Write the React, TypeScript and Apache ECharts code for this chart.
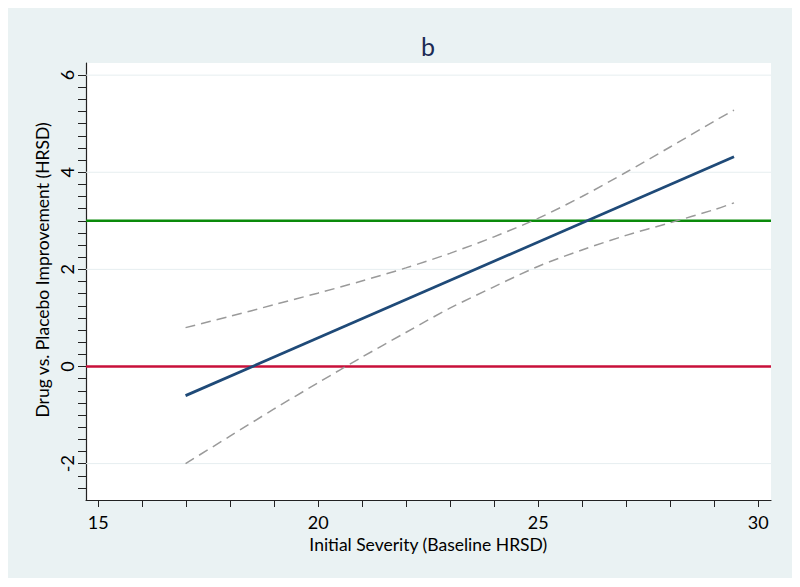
import React, { useEffect, useRef } from 'react';
import * as echarts from 'echarts';

// Confidence band
const ciX = [17, 18, 19, 20, 21, 22, 23, 24, 25, 26, 27, 28, 29, 29.45];
const upperCI = [0.8, 1.03, 1.27, 1.51, 1.76, 2.03, 2.33, 2.67, 3.05, 3.5, 4.0, 4.52, 5.05, 5.28];
const lowerCI = [-2.0, -1.44, -0.88, -0.34, 0.19, 0.7, 1.2, 1.64, 2.06, 2.4, 2.7, 2.96, 3.23, 3.37];
// Fitted line
const fitX = [17, 29.45];
const fitY = [-0.6, 4.32];
// Axes
const xRange = [14.74, 30.29];
const yRange = [-2.75, 6.25];
const xTickLabels = [15, 20, 25, 30];
const yTickLabels = [-2, 0, 2, 4, 6];
const gridLineValues = [-2, 2, 4, 6];
const referenceValues = [0, 3];
const referenceColors = ['#c8103a', '#0a8a0a'];

const FONT = 'Lato, "Open Sans", sans-serif';

export default function App() {
  const ref = useRef<HTMLDivElement>(null);
  useEffect(() => {
    const chart = echarts.init(ref.current!, null, { renderer: 'svg' });
    const hLine = (v: number) => [[xRange[0], v], [xRange[1], v]];
    const series: any[] = [];
    gridLineValues.forEach((v) => {
      series.push({
        type: 'line', xAxisIndex: 0, yAxisIndex: 0, data: hLine(v), symbol: 'none', silent: true,
        lineStyle: { color: '#e6eef0', width: 1 }, z: 1,
      });
    });
    referenceValues.forEach((v, i) => {
      series.push({
        type: 'line', xAxisIndex: 0, yAxisIndex: 0, data: hLine(v), symbol: 'none', silent: true,
        lineStyle: { color: referenceColors[i], width: 2.6 }, z: 2,
      });
    });
    series.push({
      name: 'Upper CI', type: 'line', xAxisIndex: 0, yAxisIndex: 0, symbol: 'none', smooth: 0.3,
      data: ciX.map((x, i) => [x, upperCI[i]]),
      lineStyle: { color: '#9a9a9a', width: 1.5, type: [10, 6] }, z: 3,
    });
    series.push({
      name: 'Lower CI', type: 'line', xAxisIndex: 0, yAxisIndex: 0, symbol: 'none', smooth: 0.3,
      data: ciX.map((x, i) => [x, lowerCI[i]]),
      lineStyle: { color: '#9a9a9a', width: 1.5, type: [10, 6] }, z: 3,
    });
    series.push({
      name: 'Fit', type: 'line', xAxisIndex: 0, yAxisIndex: 0, symbol: 'none',
      data: fitX.map((x, i) => [x, fitY[i]]),
      lineStyle: { color: '#1f4a78', width: 2.8 }, z: 4,
    });

    const option: any = {
      animation: false,
      backgroundColor: '#eaf2f3',
      grid: [
        { left: 78, top: 55, width: 685, height: 437, show: true, backgroundColor: '#ffffff', borderWidth: 0 },
        { left: 90.3, top: 67.1, width: 660, height: 412.8, show: false },
      ],
      xAxis: [
        {
          gridIndex: 0, type: 'value', min: xRange[0], max: xRange[1],
          axisLine: { show: true, onZero: false, lineStyle: { color: '#222', width: 1.2 } },
          axisTick: { show: false }, axisLabel: { show: false }, splitLine: { show: false },
        },
        {
          gridIndex: 1, type: 'value', min: 15, max: 30, interval: 1, offset: 12.1, position: 'bottom',
          axisLine: { show: false, onZero: false },
          axisTick: { show: true, length: 7, lineStyle: { color: '#222', width: 1 } },
          axisLabel: {
            margin: 13, fontSize: 18, color: '#000', fontFamily: FONT,
            formatter: (v: number) => (xTickLabels.includes(v) ? String(v) : ''),
          },
          splitLine: { show: false },
          name: 'Initial Severity (Baseline HRSD)', nameLocation: 'middle', nameGap: 33,
          nameTextStyle: { fontSize: 17.5, color: '#000', fontFamily: FONT },
        },
      ],
      yAxis: [
        {
          gridIndex: 0, type: 'value', min: yRange[0], max: yRange[1],
          axisLine: { show: true, onZero: false, lineStyle: { color: '#222', width: 1.2 } },
          axisTick: { show: false }, axisLabel: { show: false }, splitLine: { show: false },
        },
        {
          gridIndex: 1, type: 'value', min: -2.5, max: 6, interval: 0.25, offset: 12.3, position: 'left',
          axisLine: { show: false, onZero: false },
          axisTick: { show: true, length: 8, lineStyle: { color: '#222', width: 1 } },
          axisLabel: {
            rotate: 90, margin: 10, fontSize: 18, color: '#000', fontFamily: FONT,
            formatter: (v: number) => (yTickLabels.includes(v) ? String(v) : ''),
          },
          splitLine: { show: false },
        },
      ],
      graphic: [
        {
          type: 'text', x: 420, y: 38,
          style: { text: 'b', fontSize: 25, fontFamily: FONT, fill: '#1c2b55', textAlign: 'center', textVerticalAlign: 'middle' },
        },
        {
          type: 'text', x: 34, y: 262, rotation: Math.PI / 2,
          style: { text: 'Drug vs. Placebo Improvement (HRSD)', fontSize: 17.5, fontFamily: FONT, fill: '#000', textAlign: 'center', textVerticalAlign: 'middle' },
        },
      ],
      series,
    };
    chart.setOption(option);
    return () => chart.dispose();
  }, []);
  return <div ref={ref} style={{ width: 786, height: 570 }} />;
}
